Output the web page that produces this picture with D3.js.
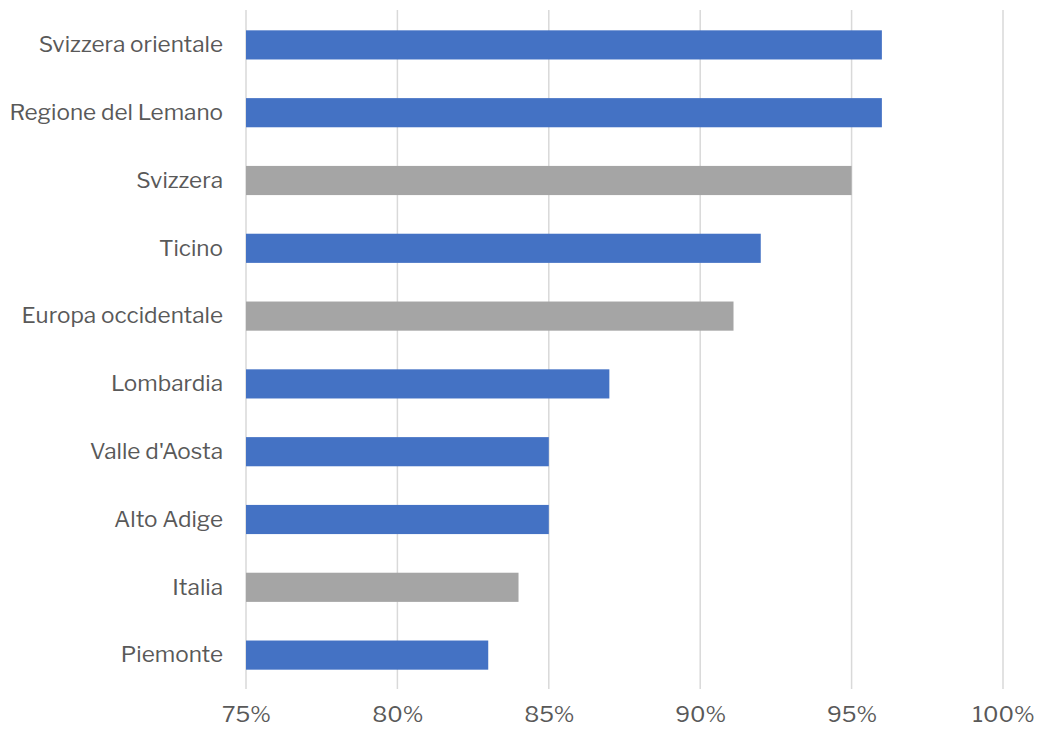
<!DOCTYPE html>
<html>
<head>
<meta charset="utf-8">
<script src="https://cdn.jsdelivr.net/npm/d3@7"></script>
<style>
  html, body { margin: 0; padding: 0; background: #fff; }
  svg { display: block; }
  text { font-family: "Libre Franklin", "Noto Sans", "Liberation Sans", sans-serif; fill: #595959; }
</style>
</head>
<body>
<svg id="chart" width="1038" height="729"></svg>
<script>
// Regions, top to bottom
const categories = [
  "Svizzera orientale", "Regione del Lemano", "Svizzera", "Ticino",
  "Europa occidentale", "Lombardia", "Valle d'Aosta", "Alto Adige",
  "Italia", "Piemonte"
];
// Share in percent
const values = [96, 96, 95, 92, 91.1, 87, 85, 85, 84, 83];
// Aggregate areas drawn in grey, regions in blue
const isAggregate = [false, false, true, false, true, false, false, false, true, false];
const tickValues = [75, 80, 85, 90, 95, 100];

const svg = d3.select("#chart");
const margin = { top: 11, left: 246 };

const x = d3.scaleLinear().domain([75, 100]).range([margin.left, 1003]);
const y = d3.scaleBand().domain(categories).range([margin.top, 689]).paddingInner(0.57).paddingOuter(0.285);

// Vertical gridlines
svg.append("g").selectAll("line").data(tickValues).join("line")
  .attr("x1", d => x(d)).attr("x2", d => x(d))
  .attr("y1", 10).attr("y2", 689)
  .attr("stroke", "#d9d9d9").attr("stroke-width", 1.5);

// Bars
svg.append("g").selectAll("rect").data(categories).join("rect")
  .attr("x", x(75))
  .attr("y", d => y(d))
  .attr("width", (d, i) => x(values[i]) - x(75))
  .attr("height", y.bandwidth())
  .attr("fill", (d, i) => isAggregate[i] ? "#A5A5A5" : "#4472C4");

// Category axis
const yAxis = d3.axisLeft(y).tickSize(0).tickPadding(23);
const gy = svg.append("g").attr("transform", `translate(${margin.left},0)`).call(yAxis);
gy.select(".domain").remove();
gy.selectAll("text").style("font-size", "22.5px").attr("fill", "#595959");

// Value axis
const xAxis = d3.axisBottom(x).tickValues(tickValues).tickSize(0).tickPadding(17).tickFormat(d => d + "%");
const gx = svg.append("g").attr("transform", `translate(0,689)`).call(xAxis);
gx.select(".domain").remove();
gx.selectAll("text").style("font-size", "22.5px").attr("fill", "#595959");
</script>
</body>
</html>
